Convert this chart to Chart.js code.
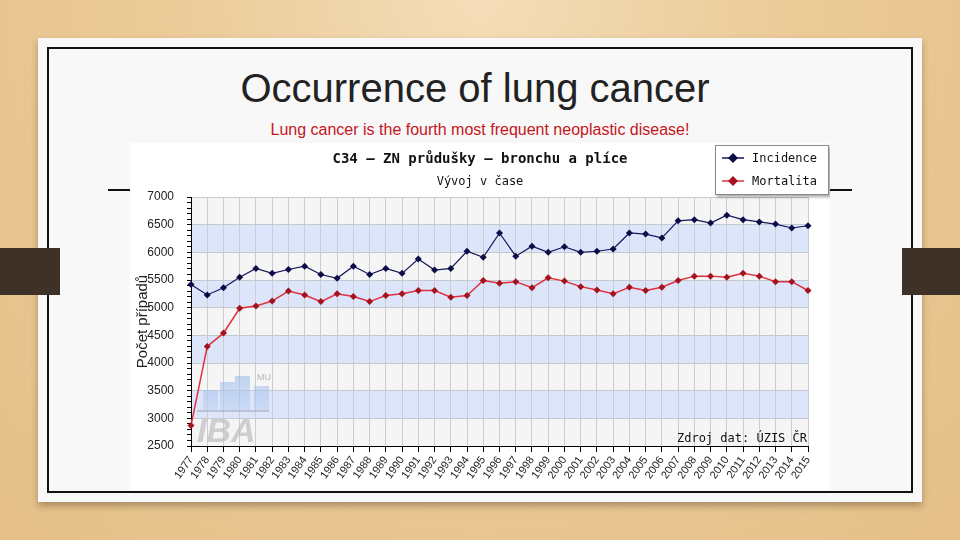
<!DOCTYPE html>
<html>
<head>
<meta charset="utf-8">
<script src="https://cdn.jsdelivr.net/npm/chart.js@4/dist/chart.umd.min.js"></script>
<style>
  html, body { margin: 0; padding: 0; }
  body {
    width: 960px; height: 540px; overflow: hidden; position: relative;
    background: radial-gradient(ellipse at 50% 0%, #f4ddb8 0%, #ebcb98 45%, #e5c088 100%);
  }
  .slide {
    position: absolute; left: 38px; top: 38px; width: 884px; height: 464px;
    background: #f8f8f8; box-shadow: 0 4px 7px rgba(60,40,20,0.35);
  }
  .frame {
    position: absolute; left: 47px; top: 47px; width: 862px; height: 442px;
    border: 2px solid #111;
  }
  .bar { position: absolute; top: 248px; height: 47px; background: #3e3128; }
  .rule { position: absolute; left: 108px; top: 189px; width: 744px; height: 2px; background: #111; }
  .title {
    position: absolute; left: 0; width: 950px; top: 66px; text-align: center;
    font: 40px "Liberation Sans", Arial, sans-serif; color: #222;
  }
  .subtitle {
    position: absolute; left: 0; width: 960px; top: 121px; text-align: center;
    font: 16px "Liberation Sans", Arial, sans-serif; color: #c4161c;
  }
  #chart { position: absolute; left: 130px; top: 143px; background: #fff; }
</style>
</head>
<body>
<div class="slide"></div>
<div class="frame"></div>
<div class="bar" style="left:0;width:60px"></div>
<div class="bar" style="left:902px;width:58px"></div>
<div class="rule"></div>
<div class="title">Occurrence of lung cancer</div>
<div class="subtitle">Lung cancer is the fourth most frequent neoplastic disease!</div>
<canvas id="chart" width="700" height="347"></canvas>

<script>
// data
const years = ['1977','1978','1979','1980','1981','1982','1983','1984','1985','1986','1987','1988','1989',
  '1990','1991','1992','1993','1994','1995','1996','1997','1998','1999','2000','2001','2002','2003',
  '2004','2005','2006','2007','2008','2009','2010','2011','2012','2013','2014','2015'];
const incidence = [5420,5230,5360,5550,5710,5620,5690,5750,5600,5530,5750,5600,5710,
  5620,5880,5680,5710,6020,5910,6350,5930,6110,6000,6100,6000,6020,6060,
  6350,6330,6260,6570,6590,6530,6670,6590,6550,6510,6440,6480];
const mortality = [2870,4300,4540,4990,5030,5120,5300,5230,5110,5250,5200,5110,5220,
  5250,5310,5310,5190,5220,5490,5440,5470,5360,5540,5480,5380,5320,5250,
  5370,5310,5370,5490,5570,5570,5550,5620,5570,5470,5470,5310];
const yMin = 2500, yMax = 7000, yBand = 500;

const mono = '"DejaVu Sans Mono", monospace';

// pruhy pozadi + bily podklad
const bandsPlugin = {
  id: 'bands',
  beforeDraw(chart) {
    const { ctx, chartArea: a, scales: { y } } = chart;
    ctx.save();
    ctx.fillStyle = '#fff';
    ctx.fillRect(0, 0, chart.width, chart.height);
    for (let v = yMax; v > yMin; v -= yBand) {
      const i = (yMax - v) / yBand;
      const top = y.getPixelForValue(v), bot = y.getPixelForValue(v - yBand);
      ctx.fillStyle = i % 2 ? '#dde5fa' : '#f5f5f5';
      ctx.fillRect(a.left, top, a.right - a.left, bot - top);
    }
    ctx.restore();
  }
};

// nadpisy, vodoznak, zdroj, legenda
const decorPlugin = {
  id: 'decor',
  beforeDatasetsDraw(chart) {
    const { ctx, chartArea: a } = chart;
    ctx.save();
    // IBA vodoznak
    const bx = a.left + 14, by = a.bottom - 36;
    const g = ctx.createLinearGradient(0, by - 34, 0, by);
    g.addColorStop(0, 'rgba(150,185,235,0.55)');
    g.addColorStop(1, 'rgba(190,210,240,0.55)');
    ctx.fillStyle = g;
    [[0, 20], [17, 28], [34, 34], [51, 24]].forEach(([dx, h]) => {
      ctx.fillRect(bx + dx - 4 + (h > 30 ? 0 : 2), by - h, 15, h);
    });
    ctx.fillStyle = 'rgba(150,160,180,0.5)';
    ctx.fillRect(bx - 8, by, 72, 2);
    ctx.font = 'italic bold 34px "Liberation Sans", Arial, sans-serif';
    ctx.fillStyle = 'rgba(190,190,190,0.7)';
    ctx.textBaseline = 'alphabetic';
    ctx.fillText('IBA', bx - 8, a.bottom - 4);
    ctx.font = '9px "Liberation Sans", Arial, sans-serif';
    ctx.fillStyle = 'rgba(160,160,160,0.7)';
    ctx.fillText('MU', bx + 52, by - 30);
    // zdroj
    ctx.font = '12px ' + mono;
    ctx.fillStyle = '#111';
    ctx.textAlign = 'right';
    ctx.fillText('Zdroj dat: ÚZIS ČR', a.right - 1, a.bottom - 4);
    ctx.restore();
  },
  afterDraw(chart) {
    const { ctx } = chart;
    ctx.save();
    ctx.textAlign = 'center';
    ctx.textBaseline = 'middle';
    ctx.fillStyle = '#111';
    ctx.font = 'bold 14px ' + mono;
    ctx.fillText('C34 – ZN průdušky – bronchu a plíce', 350, 16);
    ctx.font = '12px ' + mono;
    ctx.fillText('Vývoj v čase', 350, 39);

    // legenda
    const lx = 585, ly = 2, lw = 114, lh = 50;
    ctx.shadowColor = 'rgba(0,0,0,0.35)';
    ctx.shadowOffsetX = 2; ctx.shadowOffsetY = 2; ctx.shadowBlur = 3;
    ctx.fillStyle = '#fff';
    ctx.fillRect(lx, ly, lw, lh);
    ctx.shadowColor = 'transparent';
    ctx.strokeStyle = '#8a8a8a';
    ctx.lineWidth = 1;
    ctx.strokeRect(lx + 0.5, ly + 0.5, lw - 1, lh - 1);
    ctx.textAlign = 'left';
    chart.data.datasets.forEach((ds, i) => {
      const yy = ly + 13 + i * 23;
      ctx.strokeStyle = ds.borderColor;
      ctx.lineWidth = 1.5;
      ctx.beginPath(); ctx.moveTo(lx + 7, yy); ctx.lineTo(lx + 29, yy); ctx.stroke();
      ctx.fillStyle = ds.pointBackgroundColor;
      ctx.beginPath();
      ctx.moveTo(lx + 18, yy - 5); ctx.lineTo(lx + 23, yy); ctx.lineTo(lx + 18, yy + 5); ctx.lineTo(lx + 13, yy);
      ctx.closePath(); ctx.fill();
      ctx.fillStyle = '#111';
      ctx.font = '12px ' + mono;
      ctx.fillText(ds.label, lx + 37, yy + 1);
    });
    ctx.restore();
  }
};

new Chart(document.getElementById('chart'), {
  type: 'line',
  data: {
    labels: years,
    datasets: [
      { label: 'Incidence', data: incidence, borderColor: '#14145a', borderWidth: 1.2,
        pointStyle: 'rectRot', pointRadius: 3.5, pointBackgroundColor: '#0c0c48', pointBorderWidth: 0, tension: 0 },
      { label: 'Mortalita', data: mortality, borderColor: '#e0303c', borderWidth: 1.5,
        pointStyle: 'rectRot', pointRadius: 3.5, pointBackgroundColor: '#a3121e', pointBorderWidth: 0, tension: 0 }
    ]
  },
  options: {
    responsive: false,
    animation: false,
    devicePixelRatio: 1,
    layout: { padding: { top: 54, right: 22, left: 0, bottom: 0 } },
    plugins: { legend: { display: false }, tooltip: { enabled: false } },
    scales: {
      x: {
        offset: false,
        afterFit(s) { s.height = 44; },
        border: { color: '#000', width: 1 },
        grid: { color: '#cdcdcd', tickColor: '#000', tickLength: 6 },
        ticks: { autoSkip: false, minRotation: 55, maxRotation: 55, padding: 2, color: '#222',
          font: { family: '"Liberation Sans", Arial, sans-serif', size: 11 } }
      },
      y: {
        min: yMin, max: yMax,
        afterFit(s) { s.width = 61; },
        border: { color: '#000', width: 1 },
        grid: {
          color: c => (c.tick && c.tick.value % yBand === 0) ? '#c6c9d2' : 'transparent',
          tickColor: '#000', tickLength: 4
        },
        ticks: {
          stepSize: 100, maxTicksLimit: 100, autoSkip: false, padding: 13, color: '#222',
          font: { family: '"Liberation Sans", Arial, sans-serif', size: 12 },
          callback: v => v % yBand === 0 ? String(v) : ''
        },
        title: { display: true, text: 'Počet případů', color: '#222', padding: { top: 4, bottom: 0 },
          font: { family: '"Liberation Sans", Arial, sans-serif', size: 15 } }
      }
    }
  },
  plugins: [bandsPlugin, decorPlugin]
});
</script>
</body>
</html>
